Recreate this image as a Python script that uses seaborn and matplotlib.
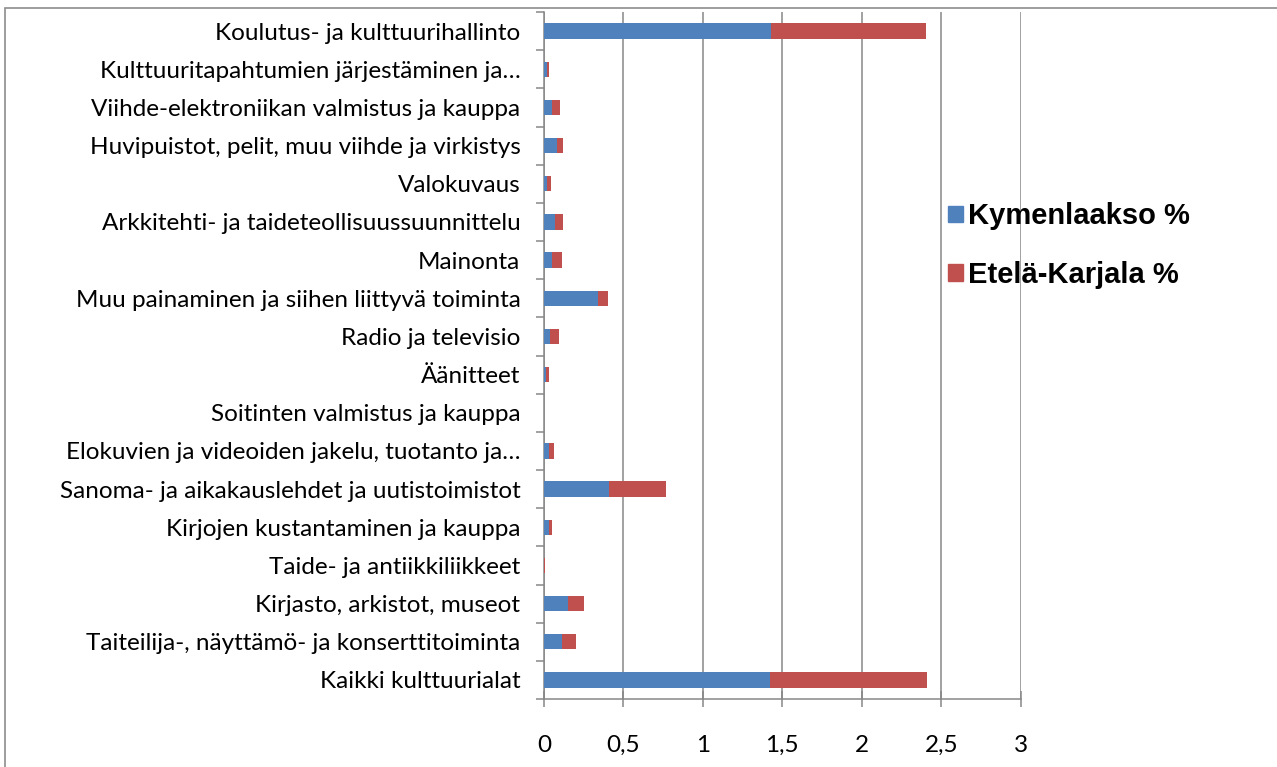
import numpy as np
import pandas as pd
import seaborn as sns
import matplotlib.pyplot as plt
from matplotlib.patches import Patch, Rectangle

# categories top to bottom, as in the chart
categories = ["Koulutus- ja kulttuurihallinto",
              "Kulttuuritapahtumien järjestäminen ja…",
              "Viihde-elektroniikan valmistus ja kauppa",
              "Huvipuistot, pelit, muu viihde ja virkistys",
              "Valokuvaus",
              "Arkkitehti- ja taideteollisuussuunnittelu",
              "Mainonta",
              "Muu painaminen ja siihen liittyvä toiminta",
              "Radio ja televisio",
              "Äänitteet",
              "Soitinten valmistus ja kauppa",
              "Elokuvien ja videoiden jakelu, tuotanto ja…",
              "Sanoma- ja aikakauslehdet ja uutistoimistot",
              "Kirjojen kustantaminen ja kauppa",
              "Taide- ja antiikkiliikkeet",
              "Kirjasto, arkistot, museot",
              "Taiteilija-, näyttämö- ja konserttitoiminta",
              "Kaikki kulttuurialat"]
kymenlaakso = [1.43, 0.017, 0.05, 0.082, 0.019, 0.071, 0.05, 0.342, 0.04,
               0.01, 0.0, 0.031, 0.411, 0.031, 0.003, 0.153, 0.111, 1.42]
etela_karjala = [0.973, 0.014, 0.053, 0.04, 0.023, 0.051, 0.061, 0.058, 0.052,
                 0.021, 0.0, 0.03, 0.359, 0.019, 0.005, 0.099, 0.09, 0.99]
series_names = ["Kymenlaakso %", "Etelä-Karjala %"]
xticks = [0, 0.5, 1, 1.5, 2, 2.5, 3]
xtick_labels = ["0", "0,5", "1", "1,5", "2", "2,5", "3"]

blue = "#4F81BD"
red = "#C0504D"
grey = "#878787"

df = pd.DataFrame({"cat": categories, "kym": kymenlaakso, "ek": etela_karjala})
df["total"] = df["kym"] + df["ek"]

sns.set_theme(style="white")
plt.rcParams["font.family"] = ["Lato", "DejaVu Sans"]
plt.rcParams["text.color"] = "black"

W, H = 1277, 767
fig = plt.figure(figsize=(W / 100, H / 100), dpi=100)
ax = fig.add_axes([544 / W, 1 - 699 / H, (1020.7 - 544) / W, 687 / H])

# stacked bars: total in red underneath, blue on top
sns.barplot(data=df, x="total", y="cat", color=red, width=0.4, saturation=1,
            linewidth=0, ax=ax, zorder=3)
sns.barplot(data=df, x="kym", y="cat", color=blue, width=0.4, saturation=1,
            linewidth=0, ax=ax, zorder=4)

ax.set_xlim(0, 3)
ax.set_ylim(len(categories) - 0.5, -0.5)
ax.set_xticks(xticks)
ax.set_xticklabels(xtick_labels, fontsize=17.5)
ax.set_yticks(range(len(categories)))
ax.set_yticklabels(categories, fontsize=17.5)
ax.set_yticks(np.arange(len(categories) + 1) - 0.5, minor=True)
ax.set_xlabel("")
ax.set_ylabel("")

ax.grid(axis="x", color=grey, lw=1.1, zorder=0)
ax.set_axisbelow(True)
for s in ["top", "right"]:
    ax.spines[s].set_visible(False)
for s in ["left", "bottom"]:
    ax.spines[s].set_color(grey)
    ax.spines[s].set_linewidth(1.1)

ax.tick_params(axis="y", which="major", length=0, pad=17, colors="black")
ax.tick_params(axis="y", which="minor", left=True, length=5.8, width=1.1,
               color=grey, direction="out")
ax.tick_params(axis="x", which="major", bottom=True, length=11.5, width=1.1,
               color=grey, direction="inout", pad=20, labelcolor="black")

handles = [Patch(color=blue), Patch(color=red)]
fig.legend(handles, series_names, loc="center left",
           bbox_to_anchor=(948 / W, 1 - 245.5 / H), frameon=False,
           prop={"family": "Liberation Sans", "weight": "bold", "size": 21},
           handlelength=0.5, handleheight=0.5, handletextpad=0.2,
           labelspacing=1.05, borderpad=0, borderaxespad=0, labelcolor="black")

# outer chart border (only left and top visible in the crop)
fig.add_artist(Rectangle((5 / W, -0.2), 1.5, 1.2 - 7.5 / H, transform=fig.transFigure,
                         fill=False, ec="#8c8c8c", lw=1.2))

fig.savefig("out.png", dpi=100)
